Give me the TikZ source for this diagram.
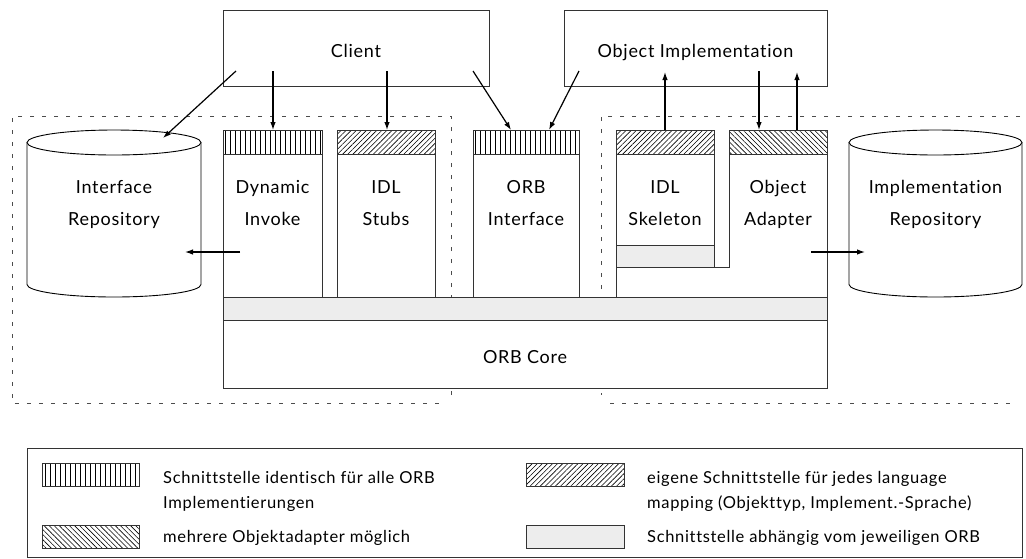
\documentclass[tikz,border=0pt]{standalone}
\usepackage{fontspec}
\setmainfont{Lato}[LetterSpace=4,Ligatures=NoCommon]
\usetikzlibrary{patterns.meta,arrows.meta}
\begin{document}
\begin{tikzpicture}[x=1pt,y=-1pt,
  box/.style={draw=black!80,line width=0.9pt,inner sep=0pt,outer sep=0pt},
  lbl/.style={font=\fontsize{18}{32}\selectfont,align=center,inner sep=0pt},
  leg/.style={font=\fontsize{16.5}{25}\selectfont,align=left,inner sep=0pt},
  arr/.style={line width=1.2pt,-{Latex[length=8pt,width=5.5pt]}},
  vhatch/.style={draw=black!80,line width=0.9pt,pattern={Lines[angle=90,distance=5pt,line width=0.6pt]}},
  nehatch/.style={draw=black!80,line width=0.9pt,pattern={Lines[angle=45,distance=3.6pt,line width=0.6pt]}},
  nwhatch/.style={draw=black!80,line width=0.9pt,pattern={Lines[angle=-45,distance=3.6pt,line width=0.6pt]}},
  grayband/.style={draw=black!80,line width=0.9pt,fill=black!7},
  region/.style={draw=black!70,line width=0.7pt,dash pattern=on 4pt off 8pt},
  cyl/.style={draw=black,line width=0.9pt}
]
\useasboundingbox (0,0) rectangle (1026,558);

% dashed regions
\draw[region] (451,395) -- (451,116) -- (12,116) -- (12,403) -- (445,403);
\draw[region] (1020,116) -- (601,116) -- (601,395);
\draw[region] (610,403) -- (1015,403);

% top boxes
\node[box,minimum width=266pt,minimum height=76pt] (client) at (356,48) {};
\node[lbl,anchor=base] (clientlbl) at (356,57) {Client};
\node[box,minimum width=263pt,minimum height=76pt] (objimpl) at (695.5,48) {};
\node[lbl,anchor=base] (objimpllbl) at (695.5,57) {Object Implementation};

% cylinders
\draw[cyl] (114,142.5) ellipse[x radius=87pt,y radius=12.5pt];
\draw[cyl] (27,142.5) -- (27,284.5) arc[start angle=180,end angle=360,x radius=87pt,y radius=12.5pt] -- (201,142.5);
\node[lbl,anchor=north] (irlbl) at (114,180) {Interface\\Repository};
\draw[cyl] (935.5,142.5) ellipse[x radius=86.5pt,y radius=12.5pt];
\draw[cyl] (849,142.5) -- (849,284.5) arc[start angle=180,end angle=360,x radius=86.5pt,y radius=12.5pt] -- (1022,142.5);
\node[lbl,anchor=north] (implreplbl) at (935.5,180) {Implementation\\Repository};

% component boxes
\node[box,fill=white,minimum width=99pt,minimum height=167pt] (dyn) at (272.5,213.5) {};
\draw[vhatch] (223,130) rectangle (322,154);
\node[lbl,anchor=north] (dynlbl) at (272.5,180) {Dynamic\\Invoke};

\node[box,fill=white,minimum width=98pt,minimum height=167pt] (stubs) at (386,213.5) {};
\draw[nehatch] (337,130) rectangle (435,154);
\node[lbl,anchor=north] (stubslbl) at (386,180) {IDL\\Stubs};

\node[box,fill=white,minimum width=106pt,minimum height=167pt] (orbif) at (526,213.5) {};
\draw[vhatch] (473,130) rectangle (579,154);
\node[lbl,anchor=north] (orbiflbl) at (526,180) {ORB\\Interface};

% object adapter (L-shaped)
\draw[box,fill=white] (729,130) -- (827,130) -- (827,297) -- (616,297) -- (616,267) -- (729,267) -- cycle;
\draw[nwhatch] (729,130) rectangle (827,154);
\node[lbl,anchor=north] (oalbl) at (778,180) {Object\\Adapter};

\node[box,fill=white,minimum width=98pt,minimum height=137pt] (skel) at (665,198.5) {};
\draw[nehatch] (616,130) rectangle (714,154);
\draw[grayband] (616,245) rectangle (714,267);
\node[lbl,anchor=north] (skellbl) at (665,180) {IDL\\Skeleton};

% ORB band and core
\node[box,fill=black!7,minimum width=604pt,minimum height=23pt] (band) at (525,308.5) {};
\node[box,fill=white,minimum width=604pt,minimum height=68pt] (core) at (525,354) {};
\node[lbl,anchor=base] (corelbl) at (525,363) {ORB Core};

% connector end points
\coordinate (c1) at (236,71);  \coordinate (ir1) at (163,138);
\coordinate (c2) at (273,71);  \coordinate (dyn1) at (273,130);
\coordinate (c3) at (387,71);  \coordinate (stubs1) at (387,130);
\coordinate (c4) at (473,71);  \coordinate (orbif1) at (511,130);
\coordinate (o1) at (579,71);  \coordinate (orbif2) at (549,130);
\coordinate (skel1) at (665,130); \coordinate (o2) at (665,72);
\coordinate (o3) at (759,71);  \coordinate (oa1) at (759,130);
\coordinate (oa2) at (797,130); \coordinate (o4) at (797,72);
\coordinate (dyn2) at (240,252); \coordinate (ir2) at (185,252);
\coordinate (oa3) at (811,252); \coordinate (impl1) at (865,252);

\draw[arr] (c1) -- (ir1);
\draw[arr] (c2) -- (dyn1);
\draw[arr] (c3) -- (stubs1);
\draw[arr] (c4) -- (orbif1);
\draw[arr] (o1) -- (orbif2);
\draw[arr] (skel1) -- (o2);
\draw[arr] (o3) -- (oa1);
\draw[arr] (oa2) -- (o4);
\draw[arr] (dyn2) -- (ir2);
\draw[arr] (oa3) -- (impl1);

% legend
\node[box,minimum width=995pt,minimum height=109pt] (legend) at (524.5,502.5) {};
\draw[vhatch] (42,463) rectangle (139,486);
\node[leg,anchor=north west] (l1) at (163,471.5) {Schnittstelle identisch für alle ORB\\Implementierungen};
\draw[nwhatch] (42,525) rectangle (139,548);
\node[leg,anchor=base west] (l2) at (163,542) {mehrere Objektadapter möglich};
\draw[nehatch] (526,463) rectangle (624,486);
\node[leg,anchor=north west] (l3) at (647,471.5) {eigene Schnittstelle für jedes language\\mapping (Objekttyp, Implement.-Sprache)};
\draw[grayband] (526,525) rectangle (624,548);
\node[leg,anchor=base west] (l4) at (647,542) {Schnittstelle abhängig vom jeweiligen ORB};
\end{tikzpicture}
\end{document}
